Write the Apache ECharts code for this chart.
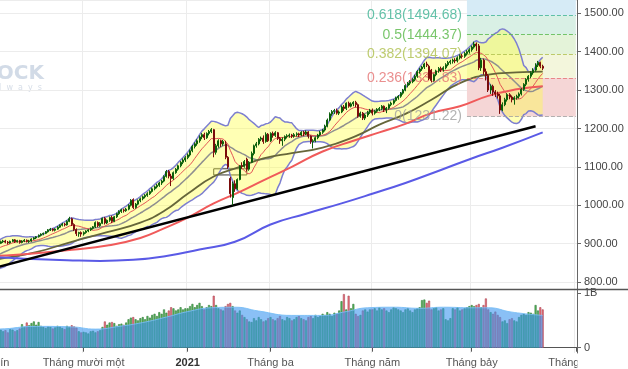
<!DOCTYPE html>
<html><head><meta charset="utf-8">
<script src="https://cdn.jsdelivr.net/npm/echarts@6/dist/echarts.min.js"></script>
<style>html,body{margin:0;padding:0;background:#fff}#c{width:628px;height:369px}</style>
</head><body><div id="c"></div>
<script>
// ---------- calendar ----------
const holidays = ['2020-09-02','2021-01-01','2021-02-10','2021-02-11','2021-02-12','2021-02-15','2021-02-16','2021-04-21','2021-04-30','2021-05-03'];
const tickLabels = [['2020-09','Tháng chín'],['2020-11','Tháng mười một'],['2021-01','2021'],['2021-03','Tháng ba'],['2021-05','Tháng năm'],['2021-07','Tháng bảy'],['2021-09','Tháng chín']];

// ---------- price data [open, close, low, high] ----------
const ohlc = [
// Aug 2020 (from 14th)
[840,845,836,848],[845,848,842,852],[848,852,845,855],[852,850,846,856],[850,846,842,853],[846,853,844,855],[853,857,851,860],[857,862,854,864],[862,866,859,868],[866,865,861,869],[865,872,863,874],[872,880,870,882],
// Sep
[880,886,877,889],[886,884,880,890],[884,881,876,886],[881,886,879,888],[886,892,884,894],[892,895,889,898],[895,899,893,901],[899,901,895,904],[901,905,899,908],[905,907,902,910],[907,904,901,910],[904,902,898,907],[902,906,900,908],[906,910,904,912],[910,905,902,912],[905,908,903,910],[908,903,900,910],[903,907,901,909],[907,909,904,912],[909,906,903,911],[906,907,902,910],
// Oct
[907,912,905,914],[912,915,910,917],[915,918,912,920],[918,922,916,924],[922,925,919,927],[925,927,922,929],[927,931,925,933],[931,936,929,938],[936,938,933,941],[938,935,932,940],[935,938,932,940],[938,943,936,946],[943,948,941,950],[948,951,945,954],[951,949,945,954],[949,958,947,961],[958,965,956,970],[965,950,946,968],[950,937,933,953],[937,926,920,940],[926,929,918,931],[929,925,918,932],
// Nov
[925,929,921,932],[929,933,926,935],[933,936,930,938],[936,940,933,942],[940,944,937,946],[944,955,941,958],[955,947,943,958],[947,953,944,956],[953,966,951,968],[966,954,950,970],[954,961,951,963],[961,968,957,971],[968,958,954,973],[958,970,956,972],[970,978,967,981],[978,984,975,987],[984,988,980,991],[988,986,981,991],[986,990,983,993],[990,1000,987,1003],[1000,1013,997,1016],
// Dec
[1015,994,990,1018],[994,1003,991,1006],[1003,1012,1000,1015],[1012,1017,1008,1020],[1017,1022,1013,1025],[1022,1026,1018,1029],[1026,1030,1022,1034],[1030,1036,1027,1039],[1036,1043,1033,1046],[1043,1048,1039,1051],[1048,1052,1044,1056],[1052,1058,1048,1061],[1058,1063,1053,1066],[1063,1075,1060,1078],[1075,1088,1072,1092],[1088,1076,1070,1092],[1076,1070,1050,1082],[1070,1085,1066,1088],[1085,1094,1082,1097],[1094,1103,1090,1106],[1103,1112,1099,1115],[1112,1118,1107,1122],[1118,1124,1113,1128],
// Jan 2021
[1124,1131,1120,1135],[1131,1142,1127,1145],[1142,1153,1138,1157],[1153,1160,1148,1164],[1160,1168,1155,1172],[1168,1178,1163,1182],[1178,1184,1172,1188],[1184,1176,1170,1189],[1176,1187,1173,1190],[1187,1192,1182,1196],[1192,1197,1188,1201],[1197,1138,1125,1199],[1138,1155,1132,1160],[1155,1168,1150,1172],[1168,1160,1152,1171],[1160,1166,1155,1170],[1160,1125,1120,1168],[1125,1100,1095,1128],[1070,1030,1020,1074],[1020,1056,1000,1062],
// Feb
[1056,1043,1035,1065],[1043,1067,1040,1070],[1067,1103,1065,1105],[1103,1101,1095,1112],[1101,1114,1098,1118],[1120,1094,1088,1124],[1094,1112,1090,1115],[1112,1135,1110,1140],[1135,1155,1130,1158],[1155,1160,1150,1165],[1160,1172,1156,1175],[1172,1175,1167,1179],[1175,1166,1160,1182],[1166,1185,1163,1190],[1185,1168,1165,1188],
// Mar
[1168,1187,1165,1190],[1187,1182,1176,1192],[1182,1189,1178,1193],[1189,1174,1170,1191],[1174,1168,1160,1178],[1168,1172,1155,1177],[1172,1179,1167,1182],[1179,1181,1174,1185],[1181,1183,1176,1187],[1183,1180,1175,1186],[1180,1184,1176,1188],[1184,1186,1179,1190],[1186,1183,1178,1189],[1183,1190,1180,1193],[1190,1186,1180,1194],[1186,1191,1183,1195],[1191,1180,1174,1193],[1180,1166,1160,1182],[1166,1168,1148,1172],[1168,1176,1164,1179],[1176,1183,1172,1186],[1183,1190,1180,1194],[1190,1196,1186,1199],
// Apr
[1196,1206,1192,1210],[1206,1222,1203,1226],[1222,1238,1219,1242],[1238,1244,1233,1248],[1244,1247,1238,1251],[1247,1240,1236,1252],[1240,1243,1235,1247],[1243,1256,1240,1260],[1256,1252,1246,1261],[1252,1266,1248,1268],[1266,1258,1254,1270],[1258,1264,1255,1268],[1264,1268,1258,1271],[1268,1262,1255,1272],[1262,1232,1228,1265],[1232,1240,1228,1244],[1240,1227,1222,1243],[1227,1235,1222,1238],[1235,1242,1230,1246],[1242,1248,1238,1251],
// May
[1248,1240,1234,1252],[1240,1245,1236,1248],[1245,1250,1241,1253],[1250,1252,1245,1256],[1252,1258,1248,1261],[1258,1248,1243,1260],[1248,1253,1240,1256],[1253,1262,1249,1265],[1262,1266,1258,1270],[1266,1273,1262,1276],[1273,1280,1270,1283],[1280,1284,1275,1287],[1284,1292,1280,1295],[1292,1300,1288,1303],[1300,1312,1297,1315],[1312,1318,1307,1321],[1318,1322,1313,1326],[1322,1328,1318,1331],[1328,1336,1323,1340],[1336,1348,1332,1352],
// Jun
[1348,1355,1343,1358],[1355,1360,1350,1363],[1360,1368,1355,1371],[1368,1365,1360,1374],[1362,1330,1326,1366],[1352,1325,1320,1355],[1325,1340,1322,1343],[1340,1350,1336,1353],[1350,1356,1345,1360],[1356,1353,1347,1361],[1353,1358,1348,1362],[1358,1366,1354,1370],[1366,1372,1362,1376],[1372,1375,1367,1379],[1375,1378,1369,1382],[1378,1376,1370,1383],[1376,1384,1372,1388],[1384,1389,1380,1393],[1389,1388,1382,1394],[1388,1395,1384,1399],[1395,1400,1390,1404],[1400,1405,1395,1409],
// Jul
[1405,1412,1400,1416],[1412,1420,1408,1426],[1420,1415,1402,1424],[1415,1358,1352,1420],[1358,1378,1350,1384],[1378,1348,1340,1382],[1348,1338,1325,1356],[1338,1300,1295,1342],[1300,1310,1290,1315],[1310,1295,1285,1314],[1295,1290,1282,1300],[1290,1285,1278,1296],[1285,1248,1238,1290],[1248,1262,1245,1268],[1262,1275,1258,1280],[1275,1288,1270,1292],[1288,1282,1276,1292],[1282,1275,1268,1286],[1275,1280,1262,1284],[1280,1284,1275,1288],[1284,1290,1278,1294],[1290,1302,1286,1305],
// Aug
[1302,1315,1298,1318],[1315,1328,1310,1331],[1328,1336,1322,1339],[1336,1345,1331,1349],[1345,1352,1340,1357],[1352,1365,1348,1370],[1365,1372,1360,1376],[1372,1362,1357,1374],[1362,1357.05,1352,1366]
];

// ---------- volume (millions of shares) ----------
const volumes = [
330,350,370,340,320,360,380,400,390,360,380,420,
400,380,350,330,360,370,340,310,330,300,320,280,340,330,300,320,350,430,380,460,410,
450,480,420,470,400,380,360,390,380,350,370,400,390,360,340,400,380,410,390,370,300,280,
290,280,260,300,310,280,300,320,380,480,420,460,470,450,400,430,440,420,460,520,550,
560,520,500,540,560,520,580,550,600,620,580,650,620,700,640,680,740,720,680,700,740,700,720,
720,760,800,740,780,820,760,700,740,780,760,950,780,720,700,680,760,800,820,760,
680,640,680,600,560,520,480,470,540,500,560,520,480,500,540,
560,520,500,540,580,520,500,560,540,500,520,560,580,540,520,500,560,580,540,600,560,580,620,
600,650,620,580,640,620,680,850,980,700,950,720,800,620,580,600,680,700,660,700,
700,720,680,740,700,720,680,650,700,740,720,700,680,650,700,720,680,650,700,720,
740,870,880,820,860,700,720,740,680,700,720,520,500,540,720,700,740,680,700,720,740,760,
780,760,780,800,740,780,900,700,650,620,660,600,560,480,500,450,520,540,500,480,560,600,
620,600,650,640,620,780,680,740,700
];
// light-blue average-volume band (billions)
const volAvgReadings = [['2020-08-14',0.33],['2020-09-11',0.34],['2020-10-05',0.39],['2020-10-26',0.38],['2020-11-09',0.34],['2020-11-23',0.39],['2020-12-07',0.46],['2020-12-21',0.56],['2021-01-04',0.66],['2021-01-18',0.73],['2021-02-01',0.74],['2021-02-22',0.67],['2021-03-12',0.59],['2021-03-31',0.59],['2021-04-14',0.66],['2021-04-28',0.73],['2021-05-17',0.74],['2021-06-01',0.72],['2021-06-15',0.74],['2021-07-01',0.73],['2021-07-12',0.73],['2021-07-26',0.65],['2021-08-12',0.59]];

// ---------- long moving averages ----------
const ma50Readings = [['2020-08-14',842],['2020-09-11',860],['2020-10-05',878],['2020-10-26',905],['2020-11-16',930],['2020-12-04',955],['2020-12-18',985],['2021-01-04',1030],['2021-01-19',1075],['2021-02-03',1100],['2021-02-24',1122],['2021-03-12',1136],['2021-03-31',1150],['2021-04-20',1180],['2021-05-07',1210],['2021-05-24',1238],['2021-06-08',1275],['2021-06-24',1318],['2021-07-12',1340],['2021-07-28',1346],['2021-08-12',1348]];
const ma100Readings = [['2020-08-14',860],['2020-09-11',868],['2020-10-05',875],['2020-10-26',884],['2020-11-16',895],['2020-12-04',915],['2020-12-18',940],['2021-01-04',968],['2021-01-19',1005],['2021-02-03',1035],['2021-02-24',1065],['2021-03-12',1100],['2021-03-31',1140],['2021-04-20',1170],['2021-05-07',1190],['2021-05-24',1212],['2021-06-08',1240],['2021-06-24',1258],['2021-07-12',1285],['2021-07-28',1302],['2021-08-12',1310]];
const ma200Readings = [['2020-08-14',866],['2020-09-11',864],['2020-10-01',860],['2020-10-22',857],['2020-11-11',855],['2020-12-01',858],['2020-12-21',868],['2021-01-11',885],['2021-02-01',905],['2021-03-01',950],['2021-03-22',978],['2021-04-12',1005],['2021-05-04',1030],['2021-05-24',1058],['2021-06-14',1092],['2021-07-01',1122],['2021-07-20',1150],['2021-08-12',1190]];
const trendLine = [['2020-08-14',809],['2021-08-09',1206]];
const boxNote = [['2021-01-19',1095],['2021-02-08',1079]];
const fibLevels = [[0,1231.22],[0.236,1331.83],[0.382,1394.07],[0.5,1444.37],[0.618,1494.68]];
const fibStart = '2021-06-29';
const lastPrice = 1357.05;

// ---------- build categories ----------
const dates = [];
(function(){
  let d = Date.UTC(2020,7,14); const end = Date.UTC(2021,8,1);
  while (d <= end) {
    const dt = new Date(d), wd = dt.getUTCDay(), s = dt.toISOString().slice(0,10);
    if (wd !== 0 && wd !== 6 && holidays.indexOf(s) < 0) dates.push(s);
    d += 86400000;
  }
})();
const labelAt = {};
for (let i = 1; i < dates.length; i++) {
  const m = dates[i].slice(0,7);
  if (m !== dates[i-1].slice(0,7)) { const t = tickLabels.find(x => x[0] === m); if (t) labelAt[i] = t[1]; }
}
const isTick = i => labelAt[i] !== undefined;

// ---------- indicators ----------
const closes = ohlc.map(d => d[1]);
function sma(a, n){ return a.map((v,i)=>{ if(i<n-1) return null; let s=0; for(let k=i-n+1;k<=i;k++) s+=a[k]; return s/n; }); }
function pad(a){ const r = a.slice(); while (r.length < dates.length) r.push(null); return r; }
function sparse(rd, f){ const a = dates.map(()=>null); rd.forEach(([d,v])=>{ const i = dates.indexOf(d); if (i>=0) a[i]= f ? f(v) : v; }); return a; }
const ma20 = sma(closes,20), ma10 = sma(closes,10);
const sd20 = ma20.map((m,i)=>{ if(m==null) return null; let s=0; for(let k=i-19;k<=i;k++) s+=(closes[k]-m)*(closes[k]-m); return Math.sqrt(s/20); });
const bbUp = ma20.map((m,i)=> m==null?null:m+2*sd20[i]);
const bbLo = ma20.map((m,i)=> m==null?null:m-2*sd20[i]);
const bbDiff = bbUp.map((u,i)=> u==null?null:u-bbLo[i]);

// ---------- fib ----------
const fibColors = ['#a0a0a0','#e57373','#aebf4c','#58b847','#3fb394'];
const zoneColors = ['#f5d6d6','#f3f6dc','#e4f3d9','#d9f0e5','#d6ebf6'];
const fibEnd = dates[dates.length-1];
const yMax = 1534.6, yMin = 782;
const fibAreas = fibLevels.map((l,i)=>[
  {xAxis: fibStart, yAxis: l[1], itemStyle:{color: zoneColors[i]}},
  {xAxis: fibEnd, yAxis: i < fibLevels.length-1 ? fibLevels[i+1][1] : yMax}
]);
const fibLines = fibLevels.map((l,i)=>[
  {xAxis: fibStart, yAxis: l[1], lineStyle:{color: fibColors[i], type:'dashed', width:1, opacity:0.8},
   label:{show:true, position:'start', distance:5, formatter: l[0] + '(' + l[1].toFixed(2) + ')', color: fibColors[i], fontSize:14, fontFamily:'Liberation Sans, Arial, sans-serif'}},
  {xAxis: fibEnd, yAxis: l[1]}
]);

const upIdx = ohlc.map(d => d[1] >= d[0]);
const font = 'Liberation Sans, Arial, sans-serif';
const lineS = (name, data, color, width, z, extra) => Object.assign({
  name, type:'line', xAxisIndex:0, yAxisIndex:0, data, symbol:'none', silent:true,
  lineStyle:{color, width}, z, animation:false
}, extra||{});

const chart = echarts.init(document.getElementById('c'), null, {renderer:'canvas'});
chart.setOption({
  animation:false,
  backgroundColor:'#ffffff',
  grid:[
    {left:-47.8, right:51, top:0, bottom:80, outerBoundsMode:'none', containLabel:false},
    {left:-47.8, right:51, top:289, bottom:16, outerBoundsMode:'none', containLabel:false}
  ],
  xAxis:[
    {type:'category', gridIndex:0, data:dates, boundaryGap:true,
     axisLine:{show:false}, axisTick:{show:false}, axisLabel:{show:false},
     splitLine:{show:true, interval:(i)=>isTick(i), lineStyle:{color:'#ececec'}}},
    {type:'category', gridIndex:1, data:dates, boundaryGap:true,
     axisLine:{show:true, lineStyle:{color:'#555'}},
     axisTick:{show:true, alignWithLabel:true, interval:(i)=>isTick(i), length:4, lineStyle:{color:'#555'}},
     axisLabel:{show:true, interval:(i)=>isTick(i), margin:4, color:'#555', fontSize:11, fontFamily:font,
       formatter:(v,i)=> labelAt[i]==='2021' ? '{b|2021}' : (labelAt[i]||''),
       rich:{b:{fontWeight:'bold', color:'#333', fontSize:11, fontFamily:font}}},
     splitLine:{show:true, interval:(i)=>isTick(i), lineStyle:{color:'#ececec'}}}
  ],
  yAxis:[
    {type:'value', gridIndex:0, position:'right', min:yMin, max:yMax, splitNumber:7,
     axisLine:{show:true, lineStyle:{color:'#666'}}, axisTick:{show:true, length:4, lineStyle:{color:'#666'}},
     axisLabel:{color:'#444', fontSize:11, fontFamily:font, margin:7, showMinLabel:false, showMaxLabel:false,
       formatter:v=> Math.abs(v % 100) < 1e-6 ? v.toFixed(2) : ''},
     splitLine:{show:true, lineStyle:{color:'#ececec'}}},
    {type:'value', gridIndex:1, position:'right', min:-0.097e9, max:1.073e9, splitNumber:1,
     axisLine:{show:true, lineStyle:{color:'#666'}}, axisTick:{show:true, length:4, lineStyle:{color:'#666'}},
     axisLabel:{color:'#444', fontSize:11, fontFamily:font, margin:7, showMinLabel:false, showMaxLabel:false,
       formatter:v=> Math.abs(v) < 1 ? '0' : (Math.abs(v-1e9) < 1 ? '1B' : '')},
     splitLine:{show:false}}
  ],
  series:[
    {name:'fib', type:'line', xAxisIndex:0, yAxisIndex:0, data:[], silent:true, z:1,
     markArea:{silent:true, label:{show:false}, data: fibAreas},
     markLine:{silent:true, symbol:['none','none'], data: fibLines}},
    lineS('bbBase', pad(bbLo), 'transparent', 0, 2, {stack:'bb', lineStyle:{opacity:0}}),
    lineS('bbFill', pad(bbDiff), 'transparent', 0, 2, {stack:'bb', lineStyle:{opacity:0}, areaStyle:{color:'rgba(255,255,60,0.55)'}}),
    {name:'box', type:'line', xAxisIndex:0, yAxisIndex:0, data:[], silent:true, z:3,
     markArea:{silent:true, label:{show:false}, itemStyle:{color:'#ffffff', borderColor:'#333', borderWidth:1},
       data:[[{xAxis:boxNote[0][0], yAxis:boxNote[0][1]},{xAxis:boxNote[1][0], yAxis:boxNote[1][1]}]]}},
    lineS('bbUpper', pad(bbUp), '#7d7fd0', 1.5, 4),
    lineS('bbLower', pad(bbLo), '#7d7fd0', 1.5, 4),
    lineS('ma20', pad(ma20), '#8f8f8f', 1.5, 4),
    lineS('ma10', pad(ma10), '#e25555', 1, 4),
    lineS('ma50', sparse(ma50Readings), '#66663a', 1.8, 4, {connectNulls:true, smooth:true}),
    lineS('ma100', sparse(ma100Readings), '#f05a5a', 2, 4, {connectNulls:true, smooth:true}),
    lineS('ma200', sparse(ma200Readings), '#5a5ae6', 2, 4, {connectNulls:true, smooth:true}),
    lineS('trend', sparse(trendLine), '#000000', 2.5, 4, {connectNulls:true}),
    {name:'price', type:'candlestick', xAxisIndex:0, yAxisIndex:0, data: ohlc.map(d=>[d[0],d[1],d[2],d[3]]),
     barWidth:'62%', z:6, silent:true,
     itemStyle:{color:'#1fa31f', color0:'#d21515', borderColor:'#0b5e0b', borderColor0:'#7a0b0b', borderWidth:1},
     markLine:{silent:true, symbol:['none','none'], data:[{yAxis:lastPrice}], lineStyle:{opacity:0},
       label:{show:true, position:'end', distance:1, formatter: lastPrice.toFixed(2), color:'#fff', fontWeight:'bold',
         fontSize:12, fontFamily:font, backgroundColor:'#22a322', padding:[2,3,2,3]}}},
    {name:'vol', type:'bar', xAxisIndex:1, yAxisIndex:1, barWidth:'85%', silent:true, z:1,
     data: volumes.map((v,i)=>({value:v*1e6, itemStyle:{color: upIdx[i]?'#5ab85a':'#f0707a', borderColor: upIdx[i]?'#2f7a3a':'#a84858', borderWidth:0.6}}))},
    {name:'volAvg', type:'line', xAxisIndex:1, yAxisIndex:1, data: sparse(volAvgReadings, v => v*1e9), connectNulls:true,
     symbol:'none', silent:true, z:10, smooth:true,
     lineStyle:{color:'rgba(120,190,245,0.9)', width:1}, areaStyle:{color:'rgba(60,150,240,0.6)', opacity:1}}
  ],
  graphic:[
    {type:'text', x:44, y:74, z:0, silent:true,
     style:{text:'STOCK', textAlign:'right', textVerticalAlign:'middle', fontSize:20, fontWeight:'bold', fontFamily:'DejaVu Sans, sans-serif', fill:'#d2dbe7'}},
    {type:'text', x:42, y:88, z:0, silent:true,
     style:{text:'a  l  w  a  y  s', textAlign:'right', textVerticalAlign:'middle', fontSize:8, fontFamily:'DejaVu Sans, sans-serif', fill:'#d7dee8'}},
    {type:'line', z:50, silent:true, shape:{x1:0, y1:289.5, x2:628, y2:289.5}, style:{stroke:'#555', lineWidth:1.5}},
    {type:'rect', z:50, silent:true, shape:{x:577.5, y:355, width:51, height:14}, style:{fill:'#ffffff'}}
  ]
});
</script>
</body></html>
